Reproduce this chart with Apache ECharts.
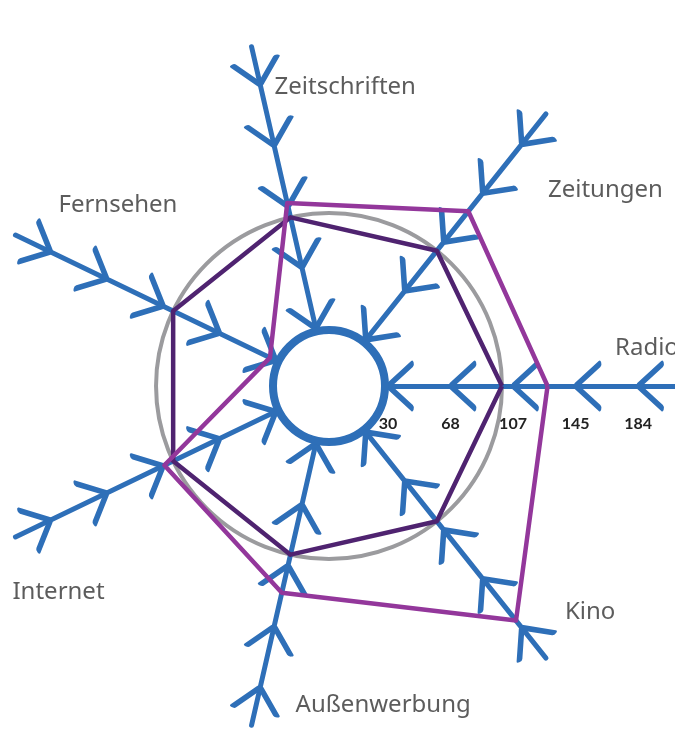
<!DOCTYPE html>
<html>
<head>
<meta charset="utf-8">
<script src="https://cdn.jsdelivr.net/npm/echarts@6/dist/echarts.min.js"></script>
<style>
  html, body { margin: 0; padding: 0; background: #fff; }
  #main { width: 675px; height: 742px; }
</style>
</head>
<body>
<div id="main"></div>
<script>
// Medien, gegen den Uhrzeigersinn ab "Radio"
const categories = ["Radio", "Zeitungen", "Zeitschriften", "Fernsehen", "Internet", "Außenwerbung", "Kino"];
const averageValues = [100, 100, 100, 100, 100, 100, 100];
const targetValues = [128, 131, 109, 34, 106, 124, 178];
const tickValues = [30, 68.4, 106.8, 145.2, 183.6];
const tickLabels = ["30", "68", "107", "145", "184"];
const averageLevel = 100;
const axisMin = 30;
const axisMax = 207.5;

// layout
const center = [329, 386];
const innerR = 59;
const outerR = 348;
const blue = "#2e6fb8";
const nameOffsets = [[-62, -38], [2, 76], [23, 40], [43, -30], [-3, 55], [44, -20], [19, -46]];

function radiusOf(v) {
  return innerR + (v - axisMin) / (axisMax - axisMin) * (outerR - innerR);
}
const angleOf = i => i * 360 / categories.length;

const chevronData = [];
categories.forEach((name, i) => {
  const a = angleOf(i);
  const rad = a * Math.PI / 180;
  tickValues.forEach(t => {
    chevronData.push({
      value: [t - axisMin, a],
      symbolRotate: a,
      symbolOffset: [12 * Math.cos(rad), -12 * Math.sin(rad)]
    });
  });
});

const nameData = categories.map((name, i) => ({
  name: name,
  value: [axisMax - axisMin, angleOf(i)],
  label: { offset: nameOffsets[i] }
}));

const chart = echarts.init(document.getElementById("main"));
chart.setOption({
  animation: false,
  radar: [
    {
      center: center,
      radius: [innerR, outerR],
      startAngle: 0,
      shape: "circle",
      splitNumber: 5,
      indicator: categories.map(name => ({ name: name, min: axisMin, max: axisMax })),
      axisName: { show: false },
      axisLine: { lineStyle: { color: blue, width: 5 } },
      axisTick: { show: false },
      splitLine: { show: false },
      splitArea: { show: false }
    },
    {
      // grauer Kreis = Durchschnitt
      center: center,
      radius: radiusOf(averageLevel),
      startAngle: 0,
      shape: "circle",
      splitNumber: 1,
      indicator: categories.map(name => ({ name: name, min: 0, max: averageLevel })),
      axisName: { show: false },
      axisLine: { show: false },
      splitLine: { lineStyle: { color: "#9b9b9e", width: 4 } },
      splitArea: { show: false }
    },
    {
      // innerer Ring
      center: center,
      radius: innerR - 3,
      startAngle: 0,
      shape: "circle",
      splitNumber: 1,
      z: 5,
      indicator: categories.map(name => ({ name: name, min: 0, max: axisMin })),
      axisName: { show: false },
      axisLine: { show: false },
      splitLine: { lineStyle: { color: blue, width: 8 } },
      splitArea: { show: false }
    }
  ],
  polar: {
    center: center,
    radius: [innerR, outerR]
  },
  angleAxis: {
    type: "value",
    min: 0,
    max: 360,
    startAngle: 0,
    clockwise: false,
    show: false
  },
  radiusAxis: {
    type: "value",
    min: 0,
    max: axisMax - axisMin,
    interval: 38.4,
    axisLine: { show: false },
    axisTick: { show: false },
    splitLine: { show: false },
    axisLabel: {
      margin: -46,
      color: "#222",
      fontFamily: "Lato",
      fontWeight: "bold",
      fontSize: 16,
      formatter: function (v) {
        const idx = tickValues.findIndex(t => Math.abs(t - axisMin - v) < 0.01);
        return idx >= 0 ? tickLabels[idx] : "";
      }
    }
  },
  series: [
    {
      type: "scatter",
      coordinateSystem: "polar",
      silent: true,
      z: 2,
      symbol: "path://M24,-22L0,0L24,22",
      symbolSize: [24, 44],
      itemStyle: {
        color: "rgba(0,0,0,0)", opacity: 1,
        borderColor: blue, borderWidth: 5, borderCap: "round", borderJoin: "round"
      },
      data: chevronData
    },
    {
      type: "radar",
      radarIndex: 0,
      z: 3,
      silent: true,
      symbol: "none",
      data: [
        { name: "Durchschnitt", value: averageValues, lineStyle: { color: "#4f2370", width: 4.5 } },
        { name: "Zielgruppe", value: targetValues, lineStyle: { color: "#93379b", width: 4.5 } }
      ]
    },
    {
      type: "scatter",
      coordinateSystem: "polar",
      silent: true,
      symbolSize: 0,
      label: {
        show: true,
        position: "inside",
        align: "left",
        verticalAlign: "middle",
        formatter: "{b}",
        color: "#333",
        fontFamily: "Noto Sans",
        fontWeight: "normal",
        fontSize: 24
      },
      data: nameData
    }
  ]
});
</script>
</body>
</html>
